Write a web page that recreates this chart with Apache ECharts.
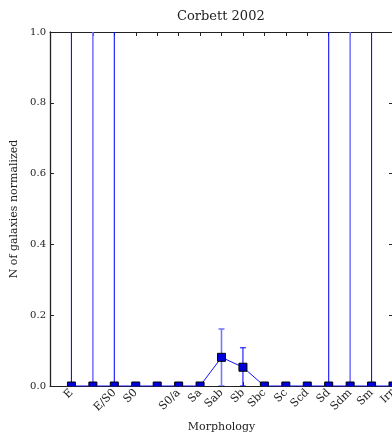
<!DOCTYPE html>
<html>
<head>
<meta charset="utf-8">
<script src="https://cdn.jsdelivr.net/npm/echarts@6/dist/echarts.min.js"></script>
<style>
html,body{margin:0;padding:0;background:#fff}
#chart{width:392px;height:432px}
</style>
</head>
<body>
<div id="chart"></div>
<script>
// morphology tick labels (two positions carry no label)
var tickLabels = ['E', '', 'E/S0', 'S0', '', 'S0/a', 'Sa', 'Sab', 'Sb', 'Sbc', 'Sc', 'Scd', 'Sd', 'Sdm', 'Sm', 'Irr'];
var values = [0, 0, 0, 0, 0, 0, 0, 0.081, 0.053, 0, 0, 0, 0, 0, 0, 0];
var errLow = [0, 0, 0, 0, 0, 0, 0, 0, 0, 0, 0, 0, 0, 0, 0, 0];
var errHigh = [1.5, 1.5, 1.5, 0, 0, 0, 0, 0.161, 0.108, 0, 0, 0, 1.5, 1.5, 1.5, 0];
var yTicks = [0, 0.2, 0.4, 0.6, 0.8, 1.0];

var serif = 'DejaVu Serif';
var pts = [], errs = [];
for (var i = 0; i < values.length; i++) {
	pts.push([i, values[i]]);
	if (errHigh[i] > values[i]) errs.push([i, errLow[i], errHigh[i]]);
}

var myChart = echarts.init(document.getElementById('chart'));

function axisX(pos, showLabel) {
	return {
		type: 'value', position: pos, min: -1, max: 15, interval: 1,
		axisLine: {show: true, onZero: false, lineStyle: {color: '#222', width: 1}},
		axisTick: {show: true, inside: true, length: 4, lineStyle: {color: '#222'}},
		splitLine: {show: false},
		axisLabel: {
			show: showLabel, rotate: 45, margin: 5,
			fontFamily: serif, fontSize: 11, color: '#222',
			formatter: function(v) { return tickLabels[v] || ''; }
		}
	};
}

var xBottom = axisX('bottom', true);
xBottom.name = 'Morphology';
xBottom.nameLocation = 'middle';
xBottom.nameGap = 36;
xBottom.nameTextStyle = {fontFamily: serif, fontSize: 11, color: '#222'};

myChart.setOption({
	animation: false,
	title: {
		text: 'Corbett 2002', left: 172, top: 5,
		textStyle: {fontFamily: serif, fontSize: 13, fontWeight: 'normal', color: '#222'}
	},
	grid: {left: 50, top: 32, width: 343, height: 354, outerBoundsMode: 'none', containLabel: false},
	xAxis: [xBottom, axisX('top', false)],
	yAxis: [{
		type: 'value', min: yTicks[0], max: yTicks[yTicks.length - 1], interval: 0.2,
		name: 'N of galaxies normalized', nameLocation: 'middle', nameGap: 26, nameRotate: 90,
		nameTextStyle: {fontFamily: serif, fontSize: 11, color: '#222'},
		axisLine: {show: true, onZero: false, lineStyle: {color: '#222', width: 1.3}},
		axisTick: {show: true, inside: true, length: 4, lineStyle: {color: '#222'}},
		splitLine: {show: false},
		axisLabel: {fontFamily: serif, fontSize: 10, color: '#222', margin: 4,
			formatter: function(v) { return v.toFixed(1); }}
	}, {
		type: 'value', position: 'right', min: 0, max: 1, interval: 0.2,
		axisLine: {show: true, onZero: false, lineStyle: {color: '#222'}},
		axisTick: {show: true, inside: true, length: 4, lineStyle: {color: '#222'}},
		splitLine: {show: false},
		axisLabel: {show: false}
	}],
	series: [{
		// error bars, alternating dark / light blue
		type: 'custom', clip: true, z: 1,
		data: errs,
		renderItem: function(params, api) {
			var k = api.value(0);
			var lo = api.coord([k, api.value(1)]);
			var hi = api.coord([k, api.value(2)]);
			var st = k % 2 ? {stroke: '#7878ff', lineWidth: 1.6} : {stroke: '#1010ff', lineWidth: 1.1};
			return {type: 'group', children: [
				{type: 'line', shape: {x1: lo[0], y1: lo[1], x2: hi[0], y2: hi[1]}, style: st},
				{type: 'line', shape: {x1: hi[0] - 3, y1: hi[1], x2: hi[0] + 3, y2: hi[1]}, style: st},
				{type: 'line', shape: {x1: lo[0] - 3, y1: lo[1], x2: lo[0] + 3, y2: lo[1]}, style: st}
			]};
		}
	}, {
		type: 'line', data: pts, symbol: 'none', z: 2,
		lineStyle: {color: '#1010ff', width: 1}
	}, {
		// square markers clipped by the axes
		type: 'custom', clip: true, z: 3,
		data: pts,
		renderItem: function(params, api) {
			var p = api.coord([api.value(0), api.value(1)]);
			return {type: 'rect', shape: {x: p[0] - 4, y: p[1] - 4, width: 8, height: 8},
				style: {fill: '#0000dd', stroke: '#000', lineWidth: 1}};
		}
	}]
});
</script>
</body>
</html>
